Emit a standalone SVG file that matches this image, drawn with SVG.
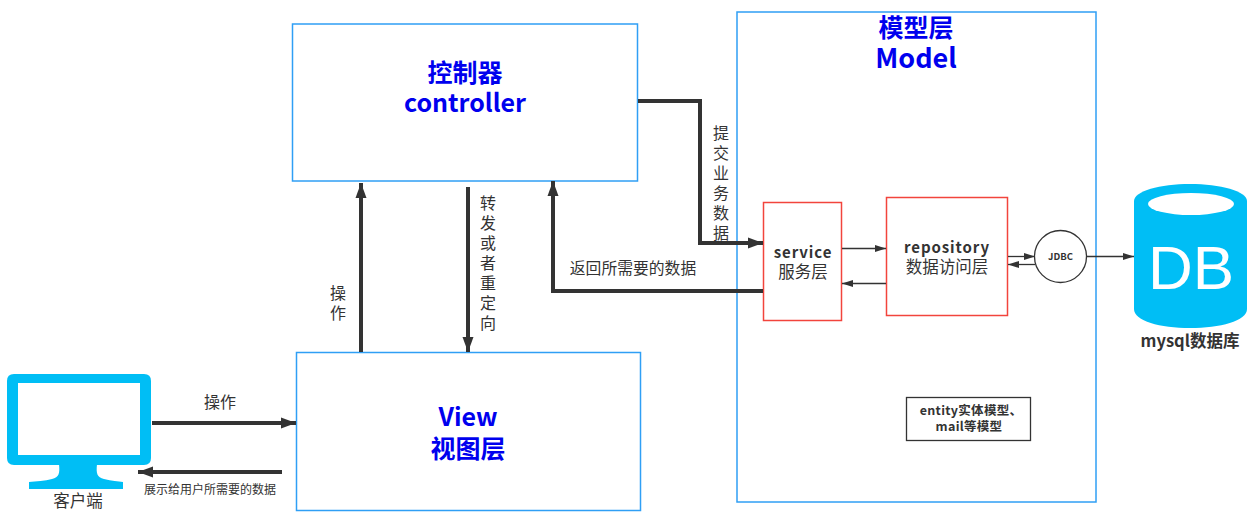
<svg xmlns="http://www.w3.org/2000/svg" width="1255" height="518" viewBox="0 0 1255 518">
<style>
text{font-family:"Noto Sans CJK SC","Liberation Sans",sans-serif;fill:#333;text-anchor:middle}
.t{font-weight:700;fill:#0000ee;font-size:25px}
.m{font-size:16px}
.n{font-size:16.500px}
.b{font-weight:700;font-size:15px;letter-spacing:.9px}
.e{font-size:12.500px;font-weight:700}
.v{font-size:16px;writing-mode:vertical-rl;text-anchor:start;letter-spacing:4px}
.blue{fill:#fff;stroke:#2f9ff5;stroke-width:1.5}
.red{fill:#fff;stroke:#f2443c;stroke-width:1.5}
.c{fill:none;stroke:#333}
.w4{stroke-width:4}
.w1{stroke-width:1.300}
.ic{fill:#00bef5}
</style>
<defs>
<marker id="a" markerUnits="userSpaceOnUse" markerWidth="16" markerHeight="12" refX="15" refY="6" orient="auto"><path d="M0 .5L15 6L0 11.500Z" fill="#333"/></marker>
<marker id="s" markerUnits="userSpaceOnUse" markerWidth="12" markerHeight="8" refX="11" refY="4" orient="auto"><path d="M0 .5L11 4L0 7.500Z" fill="#333"/></marker>
</defs>
<g id="node-model"><rect class="blue" x="737" y="12" width="359" height="490"/><text class="t" x="916" y="37">模型层</text><text class="t" x="916" y="68" style="font-size:27px">Model</text></g>
<g id="node-controller"><rect class="blue" x="292.500" y="24" width="345" height="157"/><text class="t" x="465" y="82">控制器</text><text class="t" x="465" y="112">controller</text></g>
<g id="node-view"><rect class="blue" x="296.500" y="352.500" width="344" height="158"/><text class="t" x="468" y="426">View</text><text class="t" x="468" y="458">视图层</text></g>
<g id="node-service"><rect class="red" x="763.500" y="202.500" width="78" height="118"/><text class="b" x="803" y="258">service</text><text class="n" x="803" y="278">服务层</text></g>
<g id="node-repository"><rect class="red" x="886.500" y="197.500" width="121" height="118"/><text class="b" x="947" y="253">repository</text><text class="n" x="947" y="273">数据访问层</text></g>
<g id="node-jdbc"><circle cx="1060.500" cy="256.500" r="26" fill="#fff" stroke="#333" stroke-width="1.300"/><text x="1060.500" y="260" font-size="9.500" font-weight="700">JDBC</text></g>
<g id="node-entity"><rect x="906.500" y="397.500" width="124" height="43" fill="#fff" stroke="#333" stroke-width="1.300"/><text class="e" x="971" y="415" letter-spacing=".3">entity实体模型、</text><text class="e" x="969" y="431" letter-spacing=".3">mail等模型</text></g>
<g id="node-client"><path class="ic" fill-rule="evenodd" d="M14 374H144Q151 374 151 381V458Q151 465 144 465H14Q7 465 7 458V381Q7 374 14 374ZM18 383V455H140V383Z"/><path class="ic" d="M59 464H97C96 474 97 477 104 479C112 481 118 481 123 482V489H29V482C36 481 45 481 52 479C59 477 60 474 59 464Z"/><text class="n" x="78" y="507">客户端</text></g>
<g id="node-db"><path class="ic" d="M1134 201C1134 191 1160 184 1190 184C1220 184 1247 191 1247 201V309C1247 321 1220 328 1190 328C1160 328 1134 321 1134 309Z"/><ellipse cx="1191" cy="204" rx="43" ry="11" fill="#fff"/><text x="1191" y="289" font-size="62" style="font-family:'Liberation Sans',sans-serif;fill:#fff">DB</text><text class="n" x="1190" y="347" font-weight="700">mysql数据库</text></g>
<g id="connectors">
<path class="c w4" marker-end="url(#a)" d="M152 423H296"/>
<path class="c w4" marker-end="url(#a)" d="M282 472H138"/>
<path class="c w4" marker-end="url(#a)" d="M361 352V183"/>
<path class="c w4" marker-end="url(#a)" d="M468 187V352"/>
<path class="c w4" marker-end="url(#a)" d="M638 101H700V243H763"/>
<path class="c w4" marker-end="url(#a)" d="M763 291H553V181"/>
<path class="c w1" marker-end="url(#s)" d="M842 248.500H886"/>
<path class="c w1" marker-end="url(#s)" d="M886 283.500H842"/>
<path class="c w1" marker-end="url(#s)" d="M1008 256.500H1035"/>
<path class="c w1" marker-end="url(#s)" d="M1035 264.500H1008"/>
<path class="c w1" marker-end="url(#s)" d="M1087 256.500H1134"/>
</g>
<g id="labels">
<text class="m" x="220" y="408">操作</text>
<text x="210" y="494" font-size="12">展示给用户所需要的数据</text>
<text class="v" x="338" y="285">操作</text>
<text class="v" x="488" y="195">转发或者重定向</text>
<text class="v" x="721" y="125">提交业务数据</text>
<text x="633" y="274" font-size="15.800">返回所需要的数据</text>
</g>
</svg>
